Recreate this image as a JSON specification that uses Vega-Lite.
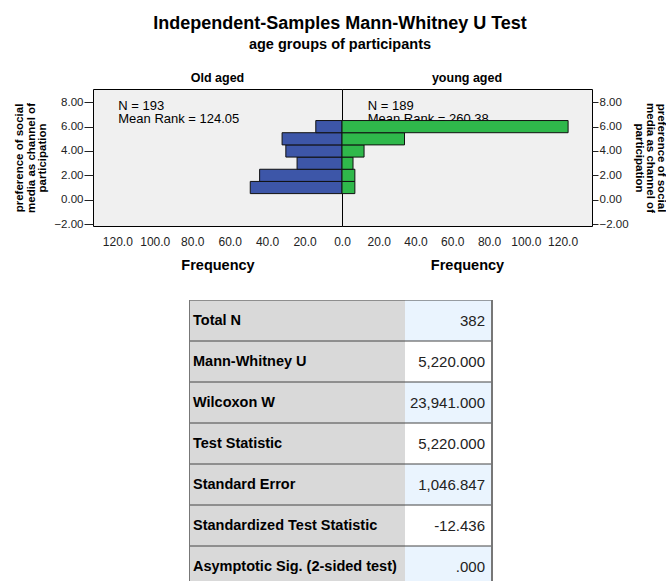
{
  "$schema": "https://vega.github.io/schema/vega-lite/v6.json",
  "padding": {"left": 13, "top": 14, "right": 0, "bottom": 0},
  "background": "#ffffff",
  "config": {
    "font": "Liberation Sans",
    "view": {"stroke": null},
    "axis": {"grid": false, "labelFont": "Liberation Sans", "titleFont": "Liberation Sans"}
  },
  "title": {
    "text": "Independent-Samples Mann-Whitney U Test",
    "subtitle": "age groups of participants",
    "fontSize": 18,
    "fontWeight": "bold",
    "color": "#000000",
    "subtitleFontSize": 14.5,
    "subtitleFontWeight": "bold",
    "subtitleColor": "#000000",
    "subtitlePadding": 5,
    "anchor": "middle",
    "offset": 20
  },
  "datasets": {
    "hist": [
      {"group": "Old aged", "lo": 0.5, "hi": 1.5, "freq": 49},
      {"group": "Old aged", "lo": 1.5, "hi": 2.5, "freq": 44},
      {"group": "Old aged", "lo": 2.5, "hi": 3.5, "freq": 24},
      {"group": "Old aged", "lo": 3.5, "hi": 4.5, "freq": 30},
      {"group": "Old aged", "lo": 4.5, "hi": 5.5, "freq": 32},
      {"group": "Old aged", "lo": 5.5, "hi": 6.5, "freq": 14},
      {"group": "young aged", "lo": 0.5, "hi": 1.5, "freq": 7},
      {"group": "young aged", "lo": 1.5, "hi": 2.5, "freq": 7},
      {"group": "young aged", "lo": 2.5, "hi": 3.5, "freq": 6},
      {"group": "young aged", "lo": 3.5, "hi": 4.5, "freq": 12},
      {"group": "young aged", "lo": 4.5, "hi": 5.5, "freq": 34},
      {"group": "young aged", "lo": 5.5, "hi": 6.5, "freq": 123}
    ],
    "notes": [
      {"group": "Old aged", "note": "N = 193\nMean Rank = 124.05"},
      {"group": "young aged", "note": "N = 189\nMean Rank = 260.38"}
    ],
    "table": [
      {"row": 1, "label": "Total N", "value": "382"},
      {"row": 2, "label": "Mann-Whitney U", "value": "5,220.000"},
      {"row": 3, "label": "Wilcoxon W", "value": "23,941.000"},
      {"row": 4, "label": "Test Statistic", "value": "5,220.000"},
      {"row": 5, "label": "Standard Error", "value": "1,046.847"},
      {"row": 6, "label": "Standardized Test Statistic", "value": "-12.436"},
      {"row": 7, "label": "Asymptotic Sig. (2-sided test)", "value": ".000"}
    ]
  },
  "spacing": 22,
  "vconcat": [
    {
      "spacing": 0,
      "bounds": "flush",
      "hconcat": [
        {
          "width": 249,
          "height": 137,
          "title": {"text": "Old aged", "fontSize": 12.5, "fontWeight": "bold", "color": "#000000", "offset": 5, "anchor": "middle"},
          "view": {"fill": "#f0f0f0", "stroke": "#000000", "strokeWidth": 1},
          "layer": [
            {
              "data": {"name": "notes"},
              "transform": [{"filter": "datum.group == 'Old aged'"}],
              "mark": {"type": "text", "align": "left", "baseline": "top", "lineBreak": "\n", "fontSize": 13, "lineHeight": 13, "color": "#000000"},
              "encoding": {
                "x": {"datum": 119.5, "type": "quantitative"},
                "y": {"datum": 8.15, "type": "quantitative"},
                "text": {"field": "note"}
              }
            },
            {
              "data": {"name": "hist"},
              "transform": [{"filter": "datum.group == 'Old aged'"}],
              "mark": {"type": "rect", "fill": "#3d56a8", "stroke": "#111111", "strokeWidth": 1},
              "encoding": {
                "x": {
                  "field": "freq",
                  "type": "quantitative",
                  "scale": {"domain": [0, 133], "reverse": true, "nice": false, "zero": false},
                  "axis": {
                    "values": [20, 40, 60, 80, 100, 120],
                    "tickCount": 10,
                    "format": ".1f",
                    "ticks": false,
                    "domain": false,
                    "labelPadding": 10,
                    "labelFontSize": 12,
                    "labelColor": "#222222",
                    "labelFlush": false,
                    "labelOverlap": false,
                    "title": "Frequency",
                    "titleFontSize": 14.5,
                    "titleFontWeight": "bold",
                    "titleColor": "#000000",
                    "titlePadding": 11
                  }
                },
                "x2": {"datum": 0},
                "y": {
                  "field": "lo",
                  "type": "quantitative",
                  "scale": {"domain": [-2.16, 9.09], "nice": false, "zero": false},
                  "axis": {
                    "values": [-2, 0, 2, 4, 6, 8],
                    "tickCount": 10,
                    "format": ".2f",
                    "domain": false,
                    "tickSize": 9,
                    "tickColor": "#222222",
                    "labelPadding": 1,
                    "labelFontSize": 11.5,
                    "labelColor": "#222222",
                    "labelFlush": false,
                    "labelOverlap": false,
                    "title": ["preference of social", "media as channel of", "participation"],
                    "titleFontSize": 11.5,
                    "titleFontWeight": "bold",
                    "titleColor": "#000000",
                    "titleLineHeight": 11.5,
                    "titlePadding": 6
                  }
                },
                "y2": {"field": "hi"}
              }
            }
          ]
        },
        {
          "width": 250,
          "height": 137,
          "title": {"text": "young aged", "fontSize": 12.5, "fontWeight": "bold", "color": "#000000", "offset": 5, "anchor": "middle"},
          "view": {"fill": "#f0f0f0", "stroke": "#000000", "strokeWidth": 1},
          "layer": [
            {
              "data": {"name": "notes"},
              "transform": [{"filter": "datum.group == 'young aged'"}],
              "mark": {"type": "text", "align": "left", "baseline": "top", "lineBreak": "\n", "fontSize": 13, "lineHeight": 13, "color": "#000000"},
              "encoding": {
                "x": {"datum": 14, "type": "quantitative"},
                "y": {"datum": 8.15, "type": "quantitative"},
                "text": {"field": "note"}
              }
            },
            {
              "data": {"name": "hist"},
              "transform": [{"filter": "datum.group == 'young aged'"}],
              "mark": {"type": "rect", "fill": "#2fb84b", "stroke": "#111111", "strokeWidth": 1},
              "encoding": {
                "x": {
                  "field": "freq",
                  "type": "quantitative",
                  "scale": {"domain": [0, 136], "nice": false, "zero": false},
                  "axis": {
                    "values": [0, 20, 40, 60, 80, 100, 120],
                    "tickCount": 10,
                    "format": ".1f",
                    "ticks": false,
                    "domain": false,
                    "labelPadding": 10,
                    "labelFontSize": 12,
                    "labelColor": "#222222",
                    "labelFlush": false,
                    "labelOverlap": false,
                    "title": "Frequency",
                    "titleFontSize": 14.5,
                    "titleFontWeight": "bold",
                    "titleColor": "#000000",
                    "titlePadding": 11
                  }
                },
                "x2": {"datum": 0},
                "y": {
                  "field": "lo",
                  "type": "quantitative",
                  "scale": {"domain": [-2.16, 9.09], "nice": false, "zero": false},
                  "axis": {
                    "orient": "right",
                    "values": [-2, 0, 2, 4, 6, 8],
                    "tickCount": 10,
                    "format": ".2f",
                    "domain": false,
                    "tickSize": 6,
                    "tickColor": "#222222",
                    "labelPadding": 1,
                    "labelFontSize": 11.5,
                    "labelColor": "#222222",
                    "labelFlush": false,
                    "labelOverlap": false,
                    "title": ["preference of social", "media as channel of", "participation"],
                    "titleFontSize": 11.5,
                    "titleFontWeight": "bold",
                    "titleColor": "#000000",
                    "titleLineHeight": 11,
                    "titlePadding": 5
                  }
                },
                "y2": {"field": "hi"}
              }
            }
          ]
        }
      ]
    },
    {
      "spacing": 0,
      "hconcat": [
        {
          "width": 96,
          "height": 281,
          "data": {"values": [{"blank": ""}]},
          "mark": {"type": "text", "opacity": 0},
          "encoding": {"text": {"field": "blank"}, "x": {"value": 0}, "y": {"value": 0}}
        },
        {
          "width": 216,
          "height": 281,
          "data": {"name": "table"},
          "layer": [
            {
              "mark": {"type": "rect", "fill": "#d9d9d9", "clip": true},
              "encoding": {
                "y": {"field": "label", "type": "nominal", "sort": null, "scale": {"range": [0, 287], "paddingInner": 0, "paddingOuter": 0}, "axis": null}
              }
            },
            {
              "mark": {"type": "rule", "color": "#444444", "strokeWidth": 1, "clip": true},
              "encoding": {
                "y": {"field": "label", "type": "nominal", "sort": null, "bandPosition": 0}
              }
            },
            {
              "mark": {"type": "rule", "color": "#777777", "strokeWidth": 1},
              "encoding": {"x": {"value": 0.5}, "y": {"value": 0}, "y2": {"value": "height"}}
            },
            {
              "mark": {"type": "text", "align": "left", "baseline": "middle", "fontSize": 14.5, "fontWeight": "bold", "color": "#000000", "dx": 4, "clip": true},
              "encoding": {
                "y": {"field": "label", "type": "nominal", "sort": null, "bandPosition": 0.5},
                "x": {"value": 0},
                "text": {"field": "label"}
              }
            }
          ]
        },
        {
          "width": 87,
          "height": 281,
          "data": {"name": "table"},
          "layer": [
            {
              "mark": {"type": "rect", "clip": true},
              "encoding": {
                "y": {"field": "label", "type": "nominal", "sort": null, "scale": {"range": [0, 287], "paddingInner": 0, "paddingOuter": 0}, "axis": null},
                "fill": {"condition": {"test": "datum.row % 2 == 1", "value": "#eaf4fe"}, "value": "#ffffff"}
              }
            },
            {
              "mark": {"type": "rule", "color": "#444444", "strokeWidth": 1, "clip": true},
              "encoding": {
                "y": {"field": "label", "type": "nominal", "sort": null, "bandPosition": 0}
              }
            },
            {
              "mark": {"type": "rule", "color": "#777777", "strokeWidth": 1},
              "encoding": {"x": {"value": "width"}, "y": {"value": 0}, "y2": {"value": "height"}}
            },
            {
              "mark": {"type": "text", "align": "right", "baseline": "middle", "fontSize": 15, "color": "#222222", "dx": -7, "clip": true},
              "encoding": {
                "y": {"field": "label", "type": "nominal", "sort": null, "bandPosition": 0.5},
                "x": {"value": "width"},
                "text": {"field": "value"}
              }
            }
          ]
        }
      ]
    }
  ]
}
